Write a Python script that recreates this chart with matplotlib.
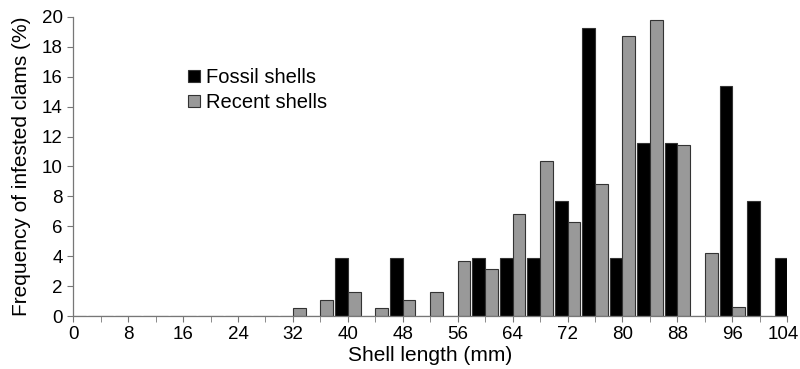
import matplotlib.pyplot as plt
import matplotlib.transforms as mtransforms
import numpy as np

plt.rcParams['font.family'] = ['Liberation Sans', 'DejaVu Sans']

# shell length classes (mm), every 4 mm
lengths = list(range(0, 108, 4))
# frequency of infested clams (%)
fossil = [0, 0, 0, 0, 0, 0, 0, 0, 0, 0, 3.85, 0, 3.85, 0, 0, 3.85,
          3.85, 3.85, 7.69, 19.23, 3.85, 11.54, 11.54, 0, 15.38, 7.69, 3.85]
recent = [0, 0, 0, 0, 0, 0, 0, 0, 0.55, 1.05, 1.6, 0.55, 1.05, 1.6, 3.65, 3.17,
          6.8, 10.4, 6.3, 8.85, 18.75, 19.8, 11.45, 4.2, 0.58, 0, 0]

fig = plt.figure(figsize=(8, 3.69), dpi=100)
ax = fig.add_axes([0.0916, 0.1436, 0.8924, 0.8104])

x = np.array(lengths)
w = 1.85
ax.bar(x - w / 2, fossil, width=w, color='black', edgecolor='#333333',
       linewidth=0.8, label='Fossil shells')
ax.bar(x + w / 2, recent, width=w, color='#999999', edgecolor='#333333',
       linewidth=0.8, label='Recent shells')

ax.set_xlim(0, 104)
ax.set_ylim(0, 20)
ax.set_xticks(range(0, 105, 8))
ax.set_xticks(range(0, 105, 4), minor=True)
ax.set_yticks(range(0, 21, 2))
ax.tick_params(axis='both', labelsize=13.5, color='#777777', length=4)
ax.tick_params(axis='x', which='minor', length=4, color='#777777')
ax.tick_params(axis='x', pad=3)

# nudge the last x label so it stays inside the picture
last = ax.get_xticklabels()[-1]
last.set_transform(last.get_transform() +
                   mtransforms.ScaledTranslation(-4 / 100, 0, fig.dpi_scale_trans))

for s in ['top', 'right']:
    ax.spines[s].set_visible(False)
for s in ['left', 'bottom']:
    ax.spines[s].set_color('#777777')
    ax.spines[s].set_linewidth(0.9)

ax.set_xlabel('Shell length (mm)', fontsize=15, labelpad=2)
ax.set_ylabel('Frequency of infested clams (%)', fontsize=15, labelpad=8)

ax.legend(loc='upper left', bbox_to_anchor=(0.135, 0.89), frameon=False,
          fontsize=14.5, handlelength=0.6, handleheight=0.6, handletextpad=0.3,
          labelspacing=0.3)

fig.savefig('out.png', dpi=100)
